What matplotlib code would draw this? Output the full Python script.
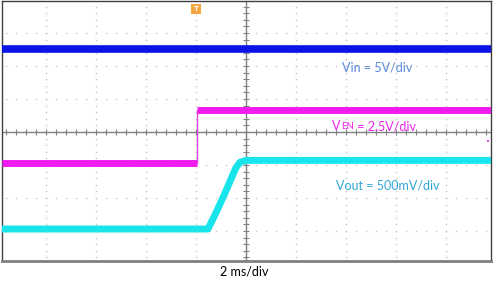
import numpy as np
import matplotlib
matplotlib.use('Agg')
import matplotlib.pyplot as plt

# scope screen: 2 ms/div horizontally, everything else in screen divisions
ms_per_div = 2.0
x_lo, x_hi = -9.76, 9.8     # ms, the capture cuts the grid a little
y_lo, y_hi = -3.91, 3.97    # divisions

# Vin trace (5 V/div)
vin_t = [-9.76, 9.8]
vin_y = [2.52, 2.52]

# VEN trace (2.5 V/div) - step at the trigger
ven_lo_t = [-9.76, -1.96]
ven_lo_y = [-0.94, -0.94]
ven_hi_t = [-1.96, 9.8]
ven_hi_y = [0.67, 0.67]
ven_edge_t = [-1.96, -1.96]
ven_edge_y = [-0.94, 0.67]

# Vout trace (500 mV/div) - soft start ramp
vout_t = [-9.76, -1.52, -1.2, -0.8, -0.4, -0.24, 0.0, 9.8]
vout_y = [-2.94, -2.94, -2.45, -1.78, -1.08, -0.92, -0.86, -0.86]

fig = plt.figure(figsize=(4.93, 2.88), dpi=100)
ax = fig.add_axes([2/493, (288-261)/288, 489/493, 260/288])
ax.set_xlim(x_lo, x_hi)
ax.set_ylim(y_lo, y_hi)
ax.set_xticks([]); ax.set_yticks([])
for s in ['left', 'right', 'top']:
    ax.spines[s].set_color('#404040'); ax.spines[s].set_linewidth(1)
ax.spines['bottom'].set_color('#808080'); ax.spines['bottom'].set_linewidth(2)

# dotted graticule
major_x = [k*ms_per_div for k in range(-4, 5) if k != 0]
major_y = [k for k in range(-3, 4) if k != 0]
sub_x = np.arange(-25, 26)*ms_per_div/5
sub_y = np.arange(-20, 21)/5
for gx in major_x:
    ax.plot([gx]*len(sub_y), sub_y, ls='none', marker='s', ms=1.0, mew=0, color='#c4c4c4', zorder=1)
for gy in major_y:
    ax.plot(sub_x, [gy]*len(sub_x), ls='none', marker='s', ms=1.0, mew=0, color='#c4c4c4', zorder=1)

# center cross with tick marks
ax.axhline(0, color='#808080', lw=1, zorder=1)
ax.axvline(0, color='#808080', lw=1, zorder=1)
ax.plot(sub_x, [0]*len(sub_x), ls='none', marker='|', ms=4, mew=0.8, color='#808080', zorder=1)
ax.plot([0]*len(sub_y), sub_y, ls='none', marker='_', ms=4, mew=0.8, color='#808080', zorder=1)

# traces
ax.plot(vin_t, vin_y, color='#0a14e8', lw=5.5, solid_capstyle='butt', zorder=3)
ax.plot(ven_lo_t, ven_lo_y, color='#f01cf0', lw=5, solid_capstyle='butt', zorder=3)
ax.plot(ven_hi_t, ven_hi_y, color='#f01cf0', lw=5, solid_capstyle='butt', zorder=3)
ax.plot(ven_edge_t, ven_edge_y, color='#e040e0', lw=1, zorder=3)
ax.plot(vout_t, vout_y, color='#18e4ec', lw=5, solid_capstyle='butt', solid_joinstyle='round', zorder=3)

# trigger marker and channel marker
ax.plot([-1.98], [3.73], marker='s', ms=7, color='#f5a540', mew=0, zorder=4)
ax.text(-1.98, 3.73, 'T', color='white', fontsize=5, ha='center', va='center', fontweight='bold', zorder=5)
ax.plot([9.7], [-0.27], marker='s', ms=2, color='#e040e0', mew=0, zorder=4)

# labels
fnt = 'Lato'
ax.text(3.84, 1.96, 'Vin = 5V/div', color='#5a8ad8', fontsize=9, family=fnt, va='center')
t1 = ax.text(3.44, 0.18, 'V', color='#ec24ec', fontsize=9, family=fnt, va='center')
t2 = ax.annotate('EN', xy=(1, 0), xycoords=t1, xytext=(0.3, 0.9), textcoords='offset points',
                 color='#ec24ec', fontsize=7, family=fnt, va='bottom')
ax.annotate(' = 2.5V/div', xy=(1, 0), xycoords=t2, xytext=(0, -0.9), textcoords='offset points',
            color='#ec24ec', fontsize=9, family=fnt, va='bottom')
ax.text(3.6, -1.62, 'Vout = 500mV/div', color='#30a8d8', fontsize=9, family=fnt, va='center')
fig.text(244/493, 1 - 272/288, '2 ms/div', color='black', fontsize=9, family=fnt, ha='center', va='center')

fig.savefig('out.png', dpi=100)
